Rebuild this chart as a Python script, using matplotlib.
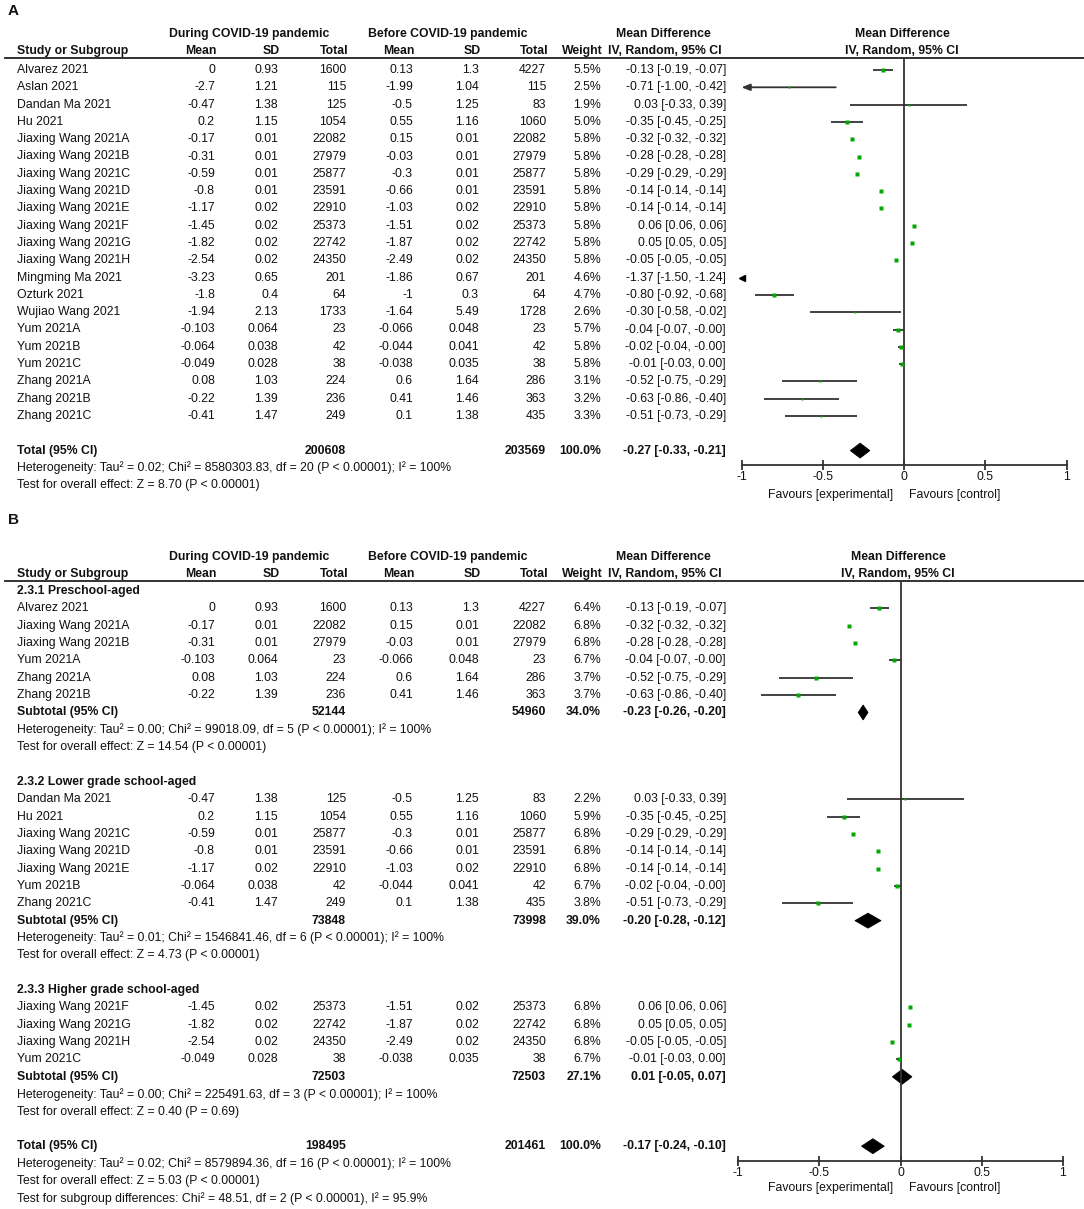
import matplotlib.pyplot as plt
from matplotlib.patches import Polygon

plt.rcParams['font.family'] = 'Liberation Sans'

# ---------------- data: panel A (all studies)
studies = ["Alvarez 2021", "Aslan 2021", "Dandan Ma 2021", "Hu 2021",
           "Jiaxing Wang 2021A", "Jiaxing Wang 2021B", "Jiaxing Wang 2021C", "Jiaxing Wang 2021D",
           "Jiaxing Wang 2021E", "Jiaxing Wang 2021F", "Jiaxing Wang 2021G", "Jiaxing Wang 2021H",
           "Mingming Ma 2021", "Ozturk 2021", "Wujiao Wang 2021", "Yum 2021A", "Yum 2021B",
           "Yum 2021C", "Zhang 2021A", "Zhang 2021B", "Zhang 2021C"]
mean_e = [0, -2.7, -0.47, 0.2, -0.17, -0.31, -0.59, -0.8, -1.17, -1.45, -1.82, -2.54,
          -3.23, -1.8, -1.94, -0.103, -0.064, -0.049, 0.08, -0.22, -0.41]
sd_e = [0.93, 1.21, 1.38, 1.15, 0.01, 0.01, 0.01, 0.01, 0.02, 0.02, 0.02, 0.02,
        0.65, 0.4, 2.13, 0.064, 0.038, 0.028, 1.03, 1.39, 1.47]
n_e = [1600, 115, 125, 1054, 22082, 27979, 25877, 23591, 22910, 25373, 22742, 24350,
       201, 64, 1733, 23, 42, 38, 224, 236, 249]
mean_c = [0.13, -1.99, -0.5, 0.55, 0.15, -0.03, -0.3, -0.66, -1.03, -1.51, -1.87, -2.49,
          -1.86, -1, -1.64, -0.066, -0.044, -0.038, 0.6, 0.41, 0.1]
sd_c = [1.3, 1.04, 1.25, 1.16, 0.01, 0.01, 0.01, 0.01, 0.02, 0.02, 0.02, 0.02,
        0.67, 0.3, 5.49, 0.048, 0.041, 0.035, 1.64, 1.46, 1.38]
n_c = [4227, 115, 83, 1060, 22082, 27979, 25877, 23591, 22910, 25373, 22742, 24350,
       201, 64, 1728, 23, 42, 38, 286, 363, 435]
weight_a = [5.5, 2.5, 1.9, 5.0, 5.8, 5.8, 5.8, 5.8, 5.8, 5.8, 5.8, 5.8,
            4.6, 4.7, 2.6, 5.7, 5.8, 5.8, 3.1, 3.2, 3.3]
md = [-0.13, -0.71, 0.03, -0.35, -0.32, -0.28, -0.29, -0.14, -0.14, 0.06, 0.05, -0.05,
      -1.37, -0.80, -0.30, -0.04, -0.02, -0.01, -0.52, -0.63, -0.51]
lo = [-0.19, -1.00, -0.33, -0.45, -0.32, -0.28, -0.29, -0.14, -0.14, 0.06, 0.05, -0.05,
      -1.50, -0.92, -0.58, -0.07, -0.04, -0.03, -0.75, -0.86, -0.73]
hi = [-0.07, -0.42, 0.39, -0.25, -0.32, -0.28, -0.29, -0.14, -0.14, 0.06, 0.05, -0.05,
      -1.24, -0.68, -0.02, -0.0, -0.0, 0.0, -0.29, -0.40, -0.29]

total_a = [200608, 203569, 100.0, -0.27, -0.33, -0.21]
notes_a = ["Heterogeneity: Tau\u00b2 = 0.02; Chi\u00b2 = 8580303.83, df = 20 (P < 0.00001); I\u00b2 = 100%",
           "Test for overall effect: Z = 8.70 (P < 0.00001)"]

# ---------------- data: panel B (subgroups)
groups_b = ["2.3.1 Preschool-aged", "2.3.2 Lower grade school-aged", "2.3.3 Higher grade school-aged"]
members_b = [["Alvarez 2021", "Jiaxing Wang 2021A", "Jiaxing Wang 2021B", "Yum 2021A", "Zhang 2021A", "Zhang 2021B"],
             ["Dandan Ma 2021", "Hu 2021", "Jiaxing Wang 2021C", "Jiaxing Wang 2021D", "Jiaxing Wang 2021E",
              "Yum 2021B", "Zhang 2021C"],
             ["Jiaxing Wang 2021F", "Jiaxing Wang 2021G", "Jiaxing Wang 2021H", "Yum 2021C"]]
weights_b = [[6.4, 6.8, 6.8, 6.7, 3.7, 3.7],
             [2.2, 5.9, 6.8, 6.8, 6.8, 6.7, 3.8],
             [6.8, 6.8, 6.8, 6.7]]
sub_n_e = [52144, 73848, 72503]
sub_n_c = [54960, 73998, 72503]
sub_w = [34.0, 39.0, 27.1]
sub_md = [-0.23, -0.20, 0.01]
sub_lo = [-0.26, -0.28, -0.05]
sub_hi = [-0.20, -0.12, 0.07]
sub_notes = [["Heterogeneity: Tau\u00b2 = 0.00; Chi\u00b2 = 99018.09, df = 5 (P < 0.00001); I\u00b2 = 100%",
              "Test for overall effect: Z = 14.54 (P < 0.00001)"],
             ["Heterogeneity: Tau\u00b2 = 0.01; Chi\u00b2 = 1546841.46, df = 6 (P < 0.00001); I\u00b2 = 100%",
              "Test for overall effect: Z = 4.73 (P < 0.00001)"],
             ["Heterogeneity: Tau\u00b2 = 0.00; Chi\u00b2 = 225491.63, df = 3 (P < 0.00001); I\u00b2 = 100%",
              "Test for overall effect: Z = 0.40 (P = 0.69)"]]
total_b = [198495, 201461, 100.0, -0.17, -0.24, -0.10]
notes_b = ["Heterogeneity: Tau\u00b2 = 0.02; Chi\u00b2 = 8579894.36, df = 16 (P < 0.00001); I\u00b2 = 100%",
           "Test for overall effect: Z = 5.03 (P < 0.00001)",
           "Test for subgroup differences: Chi\u00b2 = 48.51, df = 2 (P < 0.00001), I\u00b2 = 95.9%"]

ticks = [-1, -0.5, 0, 0.5, 1]
tick_labels = ["-1", "-0.5", "0", "0.5", "1"]

# ---------------- layout (pixels)
W, H = 1084, 1209
FS = 8.8
COLS = [215, 278, 346, 413, 479, 546]
X_W, X_CI = 601, 726
GREEN = '#00a800'
INK = '#111111'
LINE = '#333333'

fig = plt.figure(figsize=(W / 100, H / 100), dpi=100)
tab = fig.add_axes([0, 0, 1, 1])
tab.set_xlim(0, W)
tab.set_ylim(H, 0)
tab.axis('off')


def txt(x, y, s, ha='left', bold=False, size=FS):
    tab.text(x, y, s, ha=ha, va='center', fontsize=size, color=INK,
             fontweight='bold' if bold else 'normal')


def ci_label(m, a, b):
    return '%.2f [%.2f, %.2f]' % (m, a, b)


def forest_axes(left, right, top, bottom, y0, dy):
    ax = fig.add_axes([left / W, 1 - bottom / H, (right - left) / W, (bottom - top) / H])
    ax.set_xlim(-1, 1)
    ax.set_ylim((bottom - y0) / dy, (top - y0) / dy)
    ax.patch.set_visible(False)
    for s in ['top', 'left', 'right']:
        ax.spines[s].set_visible(False)
    ax.spines['bottom'].set_linewidth(1.3)
    ax.spines['bottom'].set_color(LINE)
    ax.set_xticks(ticks)
    ax.set_xticklabels(tick_labels)
    ax.tick_params(axis='x', direction='inout', length=7, width=1.3, color=LINE,
                   labelsize=FS, labelcolor=INK, pad=1)
    ax.set_yticks([])
    ax.axvline(0, color=LINE, lw=1.3)
    return ax


def header(y1, y2, yline, xc):
    txt(249, y1, "During COVID-19 pandemic", 'center', True)
    txt(448, y1, "Before COVID-19 pandemic", 'center', True)
    txt(663, y1, "Mean Difference", 'center', True)
    txt(xc, y1, "Mean Difference", 'center', True)
    txt(17, y2, "Study or Subgroup", bold=True)
    for x, s in zip(COLS + [X_W], ['Mean', 'SD', 'Total', 'Mean', 'SD', 'Total', 'Weight']):
        txt(x + 2, y2, s, 'right', True)
    txt(665, y2, "IV, Random, 95% CI", 'center', True)
    txt(xc, y2, "IV, Random, 95% CI", 'center', True)
    tab.plot([5, W], [yline, yline], color='#222222', lw=1.3)


def study_row(ax, y, r, i, w):
    txt(17, y, studies[i])
    for x, v in zip(COLS, [mean_e[i], sd_e[i], n_e[i], mean_c[i], sd_c[i], n_c[i]]):
        txt(x, y, '%g' % v, 'right')
    txt(X_W, y, '%.1f%%' % w, 'right')
    txt(X_CI, y, ci_label(md[i], lo[i], hi[i]), 'right')
    ms = 1.2 + 0.26 * w
    if hi[i] < -1:
        ax.plot(-1, r, marker='<', ms=4, color='black', clip_on=False)
    elif lo[i] <= -1:
        ax.annotate('', xy=(-1, r), xytext=(hi[i], r),
                    arrowprops=dict(arrowstyle='-|>,head_length=0.5,head_width=0.2',
                                    color=LINE, lw=1.3, shrinkA=0, shrinkB=0))
        ax.plot(md[i], r, 's', ms=ms, color=GREEN, mec='none', zorder=3)
    else:
        ax.hlines(r, lo[i], hi[i], color=LINE, lw=1.3)
        ax.plot(md[i], r, 's', ms=ms, color=GREEN, mec='none', zorder=3)


def summary_row(ax, y, r, label, vals):
    ne, nc, w, m, a, b = vals
    txt(17, y, label, bold=True)
    txt(COLS[2], y, '%d' % ne, 'right', True)
    txt(COLS[5], y, '%d' % nc, 'right', True)
    txt(X_W, y, '%.1f%%' % w, 'right', True)
    txt(X_CI, y, ci_label(m, a, b), 'right', True)
    h = 0.43
    ax.add_patch(Polygon([(a, r), (m, r - h), (b, r), (m, r + h)], closed=True,
                         facecolor='black', edgecolor='black', lw=0.6))


# ---------------- panel A
y0a, dya = 70, 17.3
ya = lambda r: y0a + dya * r
txt(8, 11, "A", bold=True, size=11)
header(34, 51, 58, 902)
axa = forest_axes(741.5, 1066.5, 58, 465, y0a, dya)
for i in range(len(studies)):
    study_row(axa, ya(i), i, i, weight_a[i])
summary_row(axa, ya(22), 22, "Total (95% CI)", total_a)
for k, s in enumerate(notes_a):
    txt(17, ya(23 + k), s)
txt(893, 495, "Favours [experimental]", 'right')
txt(909, 495, "Favours [control]")

# ---------------- panel B
y0b, dyb = 591, 17.35
yb = lambda r: y0b + dyb * r
txt(8, 520, "B", bold=True, size=11)
header(557, 574, 581, 898)
axb = forest_axes(738, 1063, 581, 1161, y0b, dyb)
r = 0
for g, name in enumerate(groups_b):
    txt(17, yb(r), name, bold=True)
    r += 1
    for s, w in zip(members_b[g], weights_b[g]):
        study_row(axb, yb(r), r, studies.index(s), w)
        r += 1
    summary_row(axb, yb(r), r, "Subtotal (95% CI)",
                [sub_n_e[g], sub_n_c[g], sub_w[g], sub_md[g], sub_lo[g], sub_hi[g]])
    for k, s in enumerate(sub_notes[g]):
        txt(17, yb(r + 1 + k), s)
    r += 4
summary_row(axb, yb(r), r, "Total (95% CI)", total_b)
for k, s in enumerate(notes_b):
    txt(17, yb(r + 1 + k), s)
txt(893, 1188, "Favours [experimental]", 'right')
txt(909, 1188, "Favours [control]")

fig.savefig('out.png', dpi=100)
